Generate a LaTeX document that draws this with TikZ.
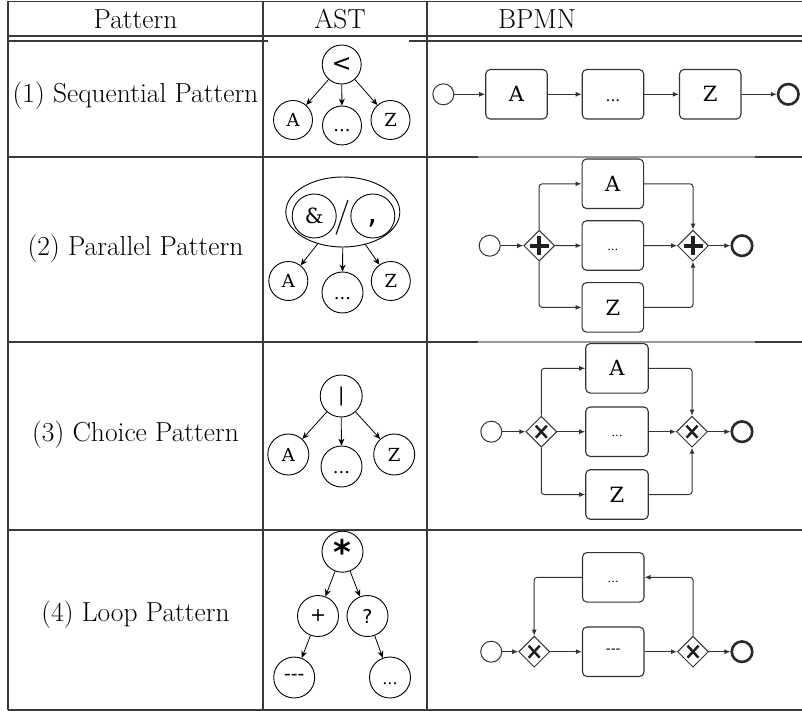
\documentclass[tikz,border=0pt]{standalone}
\usepackage{fontspec}
\newfontfamily\djsans{DejaVu Sans}
\newfontfamily\djserif{DejaVu Serif}
\usetikzlibrary{arrows.meta,shapes.geometric}
\definecolor{bpmn}{HTML}{333333}
\definecolor{rulec}{HTML}{3A3A3A}
\begin{document}
\begin{tikzpicture}[x=1pt,y=-1pt,
  tab/.style={font=\fontsize{27.5}{33}\selectfont, anchor=base, inner sep=0pt},
  rl/.style={draw=rulec, line width=1.3pt},
  rlgray/.style={draw=black!40, line width=1.1pt},
  ast/.style={circle, draw, line width=0.9pt, minimum size=39pt, inner sep=0pt, font=\djserif\fontsize{18}{18}\selectfont},
  astsym/.style={ast, font=\djsans\fontsize{#1}{#1}\selectfont},
  astdots/.style={ast, text height=13pt, text depth=0pt},
  ae/.style={-{Stealth[length=7pt,width=6pt]}, line width=0.8pt},
  task/.style={draw=bpmn, line width=1.1pt, rounded corners=4.5pt, minimum width=61.5pt, minimum height=49.5pt, inner sep=0pt, font=\djserif\fontsize{21}{21}\selectfont},
  taskdots/.style={task, font=\djserif\fontsize{11.5}{11.5}\selectfont, text height=10pt, text depth=0pt},
  startev/.style={circle, draw=bpmn, line width=1pt, minimum size=21pt, inner sep=0pt},
  endev/.style={circle, draw=bpmn!80!black, line width=2.6pt, minimum size=20.5pt, inner sep=0pt},
  gw/.style={diamond, draw=bpmn, line width=1pt, minimum size=31pt, inner sep=0pt},
  flow/.style={draw=bpmn, line width=1pt, -{Latex[length=6pt,width=5pt]}, rounded corners=3pt},
  plusmark/.style={line width=4pt, draw=bpmn!60!black},
  xmark/.style={line width=2.5pt, draw=bpmn!60!black}
]
\useasboundingbox (0,0) rectangle (802,711);
% ---------- table rules ----------
\draw[rl] (8,1.5) -- (802,1.5);
\draw[rl] (8,36) -- (802,36);
\draw[rl] (8,41) -- (268,41);
\draw[rl] (409,41) -- (802,41);
\draw[rl] (8,157) -- (478,157);
\draw[rlgray] (478,157) -- (755,157);
\draw[rl] (755,157) -- (802,157);
\draw[rl] (8,342) -- (478,342);
\draw[rlgray] (478,342) -- (755,342);
\draw[rl] (755,342) -- (802,342);
\draw[rl] (8,530) -- (802,530);
\draw[rl] (8,710) -- (802,710);
\draw[rl] (8,1.5) -- (8,710);
\draw[rl] (263,1.5) -- (263,710);
\draw[rl] (427,1.5) -- (427,710);
% ---------- header ----------
\node[tab] (hp) at (135.5,28.5) {Pattern};
\node[tab] (ha) at (340,28.5) {AST};
\node[tab] (hb) at (537,28.5) {BPMN};
% ---------- row labels ----------
\node[tab] (l1) at (135.5,103) {(1) Sequential Pattern};
\node[tab] (l2) at (135.5,255.4) {(2) Parallel Pattern};
\node[tab] (l3) at (135.5,441) {(3) Choice Pattern};
\node[tab] (l4) at (135.5,621.8) {(4) Loop Pattern};
% ---------- AST row 1 ----------
\node[astsym=24] (r1) at (341.7,64.5) {<};
\node[ast] (a1) at (293,120) {A};
\node[astdots] (d1) at (342,125.5) {...};
\node[ast] (z1) at (390.5,120) {Z};
\draw[ae] (r1) -- (a1);
\draw[ae] (r1) -- (d1);
\draw[ae] (r1) -- (z1);
% ---------- AST row 2 ----------
\node[ellipse, draw, line width=0.9pt, minimum width=114pt, minimum height=70pt, inner sep=0pt] (op2) at (342.8,212) {};
\node[circle, draw, line width=0.9pt, minimum size=44pt, inner sep=0pt, font=\djserif\fontsize{21}{21}\selectfont] (amp) at (314.2,216) {\&};
\node[circle, draw, line width=0.9pt, minimum size=44pt, inner sep=0pt, font=\djsans\fontsize{32}{32}\selectfont, text height=16pt, text depth=0pt] (cma) at (372.8,216) {,};
\node[inner sep=0pt, font=\fontsize{35}{35}\selectfont] (sl) at (343,218) {/};
\node[ast] (a2) at (288.3,281) {A};
\node[astdots, minimum size=41pt] (d2) at (342.5,292.5) {...};
\node[ast] (z2) at (390.8,281) {Z};
\draw[ae] (op2) -- (a2);
\draw[ae] (op2) -- (d2);
\draw[ae] (op2) -- (z2);
% ---------- AST row 3 ----------
\node[astsym=19, minimum size=42pt] (r3) at (341.2,396) {|};
\node[ast, minimum size=41pt] (a3) at (288.3,454.5) {A};
\node[astdots, minimum size=41pt] (d3) at (341.5,466.5) {...};
\node[ast, minimum size=41pt] (z3) at (394.2,454.5) {Z};
\draw[ae] (r3) -- (a3);
\draw[ae] (r3) -- (d3);
\draw[ae] (r3) -- (z3);
% ---------- AST row 4 ----------
\node[ast, minimum size=41pt, font=\djsans\bfseries\fontsize{34}{34}\selectfont] (r4) at (342.5,551.7) {*};
\node[astsym=19, minimum size=41pt] (p4) at (318,616) {+};
\node[astsym=19, minimum size=41pt] (q4) at (367.5,616) {?};
\node[ast, minimum size=41pt, font=\djserif\fontsize{20}{20}\selectfont] (h4) at (294.2,677.5) {-\kern0pt-\kern0pt-};
\node[astdots, minimum size=41pt, font=\djserif\fontsize{16}{16}\selectfont] (d4) at (390,677.5) {...};
\draw[ae] (r4) -- (p4);
\draw[ae] (r4) -- (q4);
\draw[ae] (p4) -- (h4);
\draw[ae] (q4) -- (d4);
% ---------- BPMN row 1 ----------
\node[startev] (s1) at (443.3,94.3) {};
\node[task] (t1a) at (516.5,94.3) {A};
\node[task, font=\djserif\fontsize{15.5}{15.5}\selectfont, text height=15pt, text depth=0pt] (t1d) at (613,94.3) {...};
\node[task] (t1z) at (710.2,94.3) {Z};
\node[endev] (e1) at (788.3,94.3) {};
\draw[flow] (s1) -- (t1a);
\draw[flow] (t1a) -- (t1d);
\draw[flow] (t1d) -- (t1z);
\draw[flow] (t1z) -- (e1);
% ---------- BPMN row 2 ----------
\node[startev] (s2) at (489.7,245.7) {};
\node[gw] (g2a) at (539.2,245.7) {};
\node[task] (t2a) at (612.8,183.8) {A};
\node[taskdots] (t2d) at (612.8,245.5) {...};
\node[task] (t2z) at (612.8,307.4) {Z};
\node[gw] (g2b) at (693,245.7) {};
\node[endev] (e2) at (742,245.7) {};
\draw[plusmark] ([xshift=-9.5pt]g2a.center) -- ([xshift=9.5pt]g2a.center);
\draw[plusmark] ([yshift=-9.5pt]g2a.center) -- ([yshift=9.5pt]g2a.center);
\draw[plusmark] ([xshift=-9.5pt]g2b.center) -- ([xshift=9.5pt]g2b.center);
\draw[plusmark] ([yshift=-9.5pt]g2b.center) -- ([yshift=9.5pt]g2b.center);
\draw[flow] (s2) -- (g2a);
\draw[flow] (g2a) -- (t2d);
\draw[flow] (g2a.north) |- (t2a.west);
\draw[flow] (g2a.south) |- (t2z.west);
\draw[flow] (t2a.east) -| (g2b.north);
\draw[flow] (t2d) -- (g2b);
\draw[flow] (t2z.east) -| (g2b.south);
\draw[flow] (g2b) -- (e2);
% ---------- BPMN row 3 ----------
\node[startev] (s3) at (491.3,431.7) {};
\node[gw] (g3a) at (541.3,431.7) {};
\node[task, minimum width=62.5pt] (t3a) at (617,368.3) {A};
\node[taskdots, minimum width=62.5pt] (t3d) at (617,431.7) {...};
\node[task, minimum width=62.5pt] (t3z) at (617,494.5) {Z};
\node[gw] (g3b) at (692,431.7) {};
\node[endev] (e3) at (742,431.7) {};
\draw[xmark] ([shift={(-5.5pt,-6pt)}]g3a.center) -- ([shift={(5.5pt,6pt)}]g3a.center);
\draw[xmark] ([shift={(-5.5pt,6pt)}]g3a.center) -- ([shift={(5.5pt,-6pt)}]g3a.center);
\draw[xmark] ([shift={(-5.5pt,-6pt)}]g3b.center) -- ([shift={(5.5pt,6pt)}]g3b.center);
\draw[xmark] ([shift={(-5.5pt,6pt)}]g3b.center) -- ([shift={(5.5pt,-6pt)}]g3b.center);
\draw[flow] (s3) -- (g3a);
\draw[flow] (g3a) -- (t3d);
\draw[flow] (g3a.north) |- (t3a.west);
\draw[flow] (g3a.south) |- (t3z.west);
\draw[flow] (t3a.east) -| (g3b.north);
\draw[flow] (t3d) -- (g3b);
\draw[flow] (t3z.east) -| (g3b.south);
\draw[flow] (g3b) -- (e3);
% ---------- BPMN row 4 ----------
\node[startev] (s4) at (491.2,651.7) {};
\node[gw] (g4a) at (534.2,651.7) {};
\node[task, font=\djserif\fontsize{14.5}{14.5}\selectfont] (t4m) at (613.2,651.7) {-\kern0pt-\kern0pt-};
\node[taskdots] (t4d) at (613.2,577.3) {...};
\node[gw] (g4b) at (693,651.7) {};
\node[endev] (e4) at (742,651.7) {};
\draw[xmark] ([shift={(-5.5pt,-6pt)}]g4a.center) -- ([shift={(5.5pt,6pt)}]g4a.center);
\draw[xmark] ([shift={(-5.5pt,6pt)}]g4a.center) -- ([shift={(5.5pt,-6pt)}]g4a.center);
\draw[xmark] ([shift={(-5.5pt,-6pt)}]g4b.center) -- ([shift={(5.5pt,6pt)}]g4b.center);
\draw[xmark] ([shift={(-5.5pt,6pt)}]g4b.center) -- ([shift={(5.5pt,-6pt)}]g4b.center);
\draw[flow] (s4) -- (g4a);
\draw[flow] (g4a) -- (t4m);
\draw[flow] (t4m) -- (g4b);
\draw[flow] (g4b) -- (e4);
\draw[flow] (g4b.north) |- (t4d.east);
\draw[flow] (t4d.west) -| (g4a.north);
\end{tikzpicture}
\end{document}
